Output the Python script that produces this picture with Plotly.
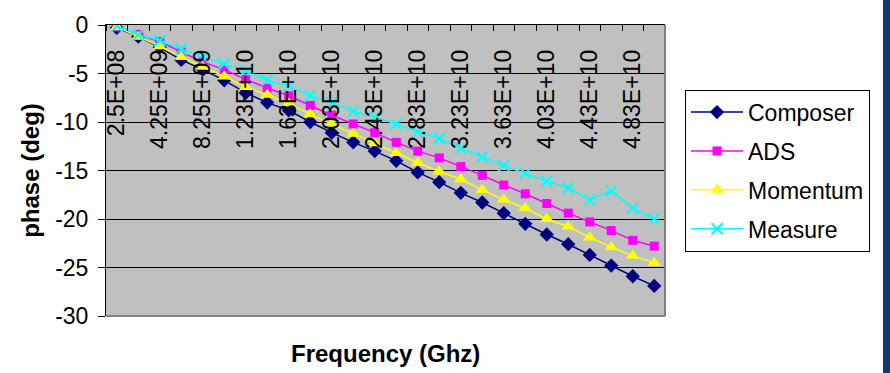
import plotly.graph_objects as go

freq_labels = ["2.5E+08", "2.25E+09", "4.25E+09", "6.25E+09", "8.25E+09", "1.03E+10",
               "1.23E+10", "1.43E+10", "1.63E+10", "1.83E+10", "2.03E+10", "2.23E+10",
               "2.43E+10", "2.63E+10", "2.83E+10", "3.03E+10", "3.23E+10", "3.43E+10",
               "3.63E+10", "3.83E+10", "4.03E+10", "4.23E+10", "4.43E+10", "4.63E+10",
               "4.83E+10", "5.03E+10"]

composer = [-0.3, -1.2, -2.3, -3.6, -4.6, -5.7, -7.0, -8.0, -8.8, -10.0, -11.1, -12.1, -13.0,
            -14.0, -15.2, -16.2, -17.3, -18.3, -19.4, -20.5, -21.6, -22.6, -23.7, -24.8, -25.9, -26.9]
ads = [-0.2, -1.0, -1.7, -2.8, -3.8, -4.6, -5.6, -6.5, -7.3, -8.3, -9.3, -10.2, -11.1,
       -12.1, -13.0, -13.7, -14.6, -15.5, -16.5, -17.4, -18.4, -19.4, -20.3, -21.2, -22.2, -22.8]
momentum = [-0.2, -1.2, -2.2, -3.3, -4.3, -5.3, -6.4, -7.2, -8.1, -9.2, -10.2, -11.2, -12.2,
            -13.2, -14.2, -15.1, -15.9, -17.0, -18.0, -18.9, -20.0, -20.8, -21.9, -22.9, -23.8, -24.5]
measure = [-0.1, -1.0, -1.6, -2.5, -3.3, -4.0, -4.7, -5.7, -6.3, -7.3, -8.0, -8.9, -9.5,
           -10.2, -11.0, -11.7, -12.7, -13.6, -14.5, -15.3, -16.1, -16.8, -18.0, -17.1, -18.9, -20.0]

y_tick_vals = [0, -5, -10, -15, -20, -25, -30]
y_tick_text = ["0", "-5", "-10", "-15", "-20", "-25", "-30"]

x = list(range(len(freq_labels)))
FONT = "Liberation Sans, Arial, sans-serif"

fig = go.Figure()
# invisible helper trace on the label axis so it gets drawn
fig.add_trace(go.Scatter(x=x, y=composer, xaxis="x2", mode="markers", showlegend=False,
                         marker=dict(opacity=0), hoverinfo="skip"))
fig.add_trace(go.Scatter(x=x, y=composer, name="Composer", mode="lines+markers", legendgroup="a",
                         line=dict(color="#000080", width=1.5),
                         marker=dict(symbol="diamond", size=11, color="#000080")))
fig.add_trace(go.Scatter(x=x, y=ads, name="ADS", mode="lines+markers", legendgroup="b",
                         line=dict(color="#FF00FF", width=1.5),
                         marker=dict(symbol="square", size=9, color="#FF00FF")))
fig.add_trace(go.Scatter(x=x, y=momentum, name="Momentum", mode="lines+markers", legendgroup="c",
                         line=dict(color="#FFFF00", width=1.5),
                         marker=dict(symbol="triangle-up", size=12, color="#FFFF00")))
fig.add_trace(go.Scatter(x=x, y=measure, name="Measure", mode="lines+markers", legendgroup="d",
                         line=dict(color="#00FFFF", width=1.5),
                         marker=dict(symbol="x-thin", size=11, color="#00FFFF",
                                     line=dict(color="#00FFFF", width=2))))

fig.update_layout(
    width=890, height=373,
    margin=dict(l=106, r=225, t=17, b=57),
    paper_bgcolor="white", plot_bgcolor="#C0C0C0",
    font=dict(family=FONT, color="black"),
    showlegend=True,
    legend=dict(x=1.0358, y=0.778, xanchor="left", yanchor="top",
                bordercolor="black", borderwidth=1, bgcolor="white",
                font=dict(size=23, family=FONT), itemwidth=52, tracegroupgap=6),
    xaxis=dict(side="top", range=[-0.5, 25.5], showline=True, linecolor="black", linewidth=1,
               showticklabels=False, ticks="", showgrid=False, zeroline=False,
               minor=dict(tickmode="linear", tick0=-0.5, dtick=1, ticks="inside",
                          ticklen=6, tickcolor="black", showgrid=False)),
    xaxis2=dict(overlaying="x", matches="x", side="bottom", anchor="free", position=0.934,
                range=[-0.5, 25.5], showline=False, ticks="", showgrid=False, zeroline=False,
                tickmode="array", tickvals=x[::2], ticktext=freq_labels[::2], tickangle=-90,
                tickfont=dict(size=23, family=FONT, color="black")),
    yaxis=dict(range=[-30, 0], tickmode="array", tickvals=y_tick_vals, ticktext=y_tick_text,
               showgrid=True, gridcolor="black", gridwidth=1,
               ticks="outside", ticklen=7, tickcolor="black",
               showline=True, linecolor="black", linewidth=1, zeroline=False,
               tickfont=dict(size=23, family=FONT, color="black"), ticklabelstandoff=5,
               title=dict(text="phase (deg)", standoff=8,
                          font=dict(size=24, family=FONT, weight="bold"))),
    annotations=[dict(text="Frequency (Ghz)", xref="paper", yref="paper", x=0.5, y=-0.13,
                      xanchor="center", yanchor="middle", showarrow=False,
                      font=dict(size=24, family=FONT, weight="bold"))],
    shapes=[
        dict(type="line", xref="paper", yref="paper", x0=1, x1=1, y0=0, y1=1,
             line=dict(color="#808080", width=2)),
        dict(type="line", xref="paper", yref="paper", x0=0, x1=1, y0=0, y1=0,
             line=dict(color="#808080", width=2)),
        dict(type="rect", xref="paper", yref="paper", x0=1.390, x1=1.43, y0=-0.3, y1=1.1,
             fillcolor="#0B3F70", line=dict(width=0), layer="above"),
    ],
)

fig.write_html("out.html")
